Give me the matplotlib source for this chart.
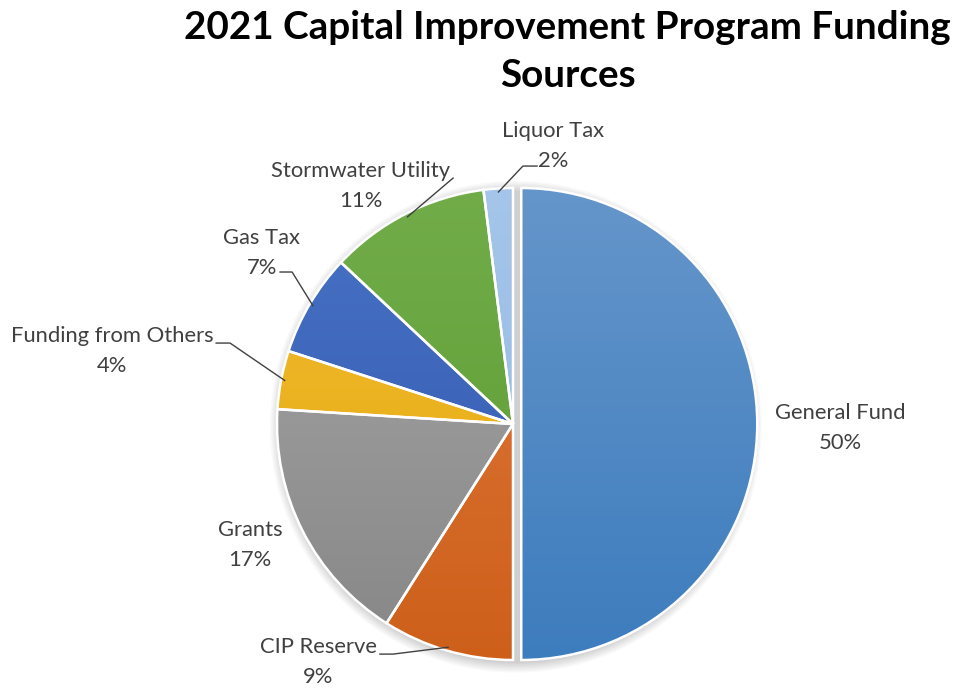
import numpy as np
import matplotlib
matplotlib.use("Agg")
import matplotlib.pyplot as plt
from matplotlib.colors import LinearSegmentedColormap

# Funding sources (percent of total), clockwise from 12 o'clock
sources = ["General Fund", "CIP Reserve", "Grants", "Funding from Others",
           "Gas Tax", "Stormwater Utility", "Liquor Tax"]
shares = [50, 9, 17, 4, 7, 11, 2]

# light (top) and dark (bottom) shade of each slice
light = ["#6797cb", "#e27c42", "#a9a9a9", "#f3bd3c", "#4a74c6", "#72ad4a", "#a6c6ea"]
dark = ["#3b7bbd", "#cc5e17", "#858585", "#e3a700", "#2e56ad", "#5b9a30", "#8fb7e2"]
explode = [0.035, 0, 0, 0, 0, 0, 0]

# label centres (data units, pie radius = 1) and leader-line paths
label_pos = [(1.386, -0.017), (-0.826, -1.008), (-1.114, -0.513), (-1.699, 0.309),
             (-1.064, 0.725), (-0.644, 1.008), (0.169, 1.178)]
leaders = {
    1: [(-0.508, -0.975), (-0.564, -0.975)],
    3: [(-1.199, 0.343), (-1.258, 0.343)],
    4: [(-0.936, 0.644), (-0.987, 0.644)],
    5: [(-0.254, 1.042)],
    6: [(0.042, 1.093), (0.102, 1.093)],
}

fig = plt.figure(figsize=(9.69, 6.9), dpi=100)
W, H = 969, 690
cx, cy, r = 513, 424, 236
m = 1.2  # axes half-width in pie radii, leaves room for the exploded slice
ax = fig.add_axes([(cx - m * r) / W, (H - cy - m * r) / H, 2 * m * r / W, 2 * m * r / H])
ax.axis("off")

# soft shadow around the pie
for k in range(8):
    sh = plt.Circle((0.012, -0.012), 1.0 + 0.006 * k, color="black",
                    alpha=0.022, lw=0, zorder=0)
    ax.add_patch(sh)

wedges, _ = ax.pie(shares, startangle=90, counterclock=False, explode=explode,
                   radius=1, wedgeprops=dict(linewidth=1.8, edgecolor="white"))

grad = np.linspace(1, 0, 256).reshape(-1, 1)
for w, c1, c2 in zip(wedges, light, dark):
    w.set_facecolor("none")
    w.set_zorder(3)
    cmap = LinearSegmentedColormap.from_list("g", [c2, c1])
    im = ax.imshow(grad, cmap=cmap, extent=(-1.1, 1.1, -1.1, 1.1),
                   aspect="auto", zorder=2, origin="upper")
    im.set_clip_path(w)
ax.set_xlim(-m, m)
ax.set_ylim(-m, m)
ax.set_aspect("equal")

font = "Lato"
for i, (name, pct) in enumerate(zip(sources, shares)):
    x, y = label_pos[i]
    ax.text(x, y, f"{name}\n{pct}%", ha="center", va="center", fontsize=15.8,
            color="#404040", family=font, linespacing=1.6, clip_on=False)
    if i in leaders:
        w = wedges[i]
        mid = np.deg2rad((w.theta1 + w.theta2) / 2)
        start = (0.985 * np.cos(mid), 0.985 * np.sin(mid))
        pts = [start] + leaders[i]
        xs, ys = zip(*pts)
        ax.plot(xs, ys, color="#404040", lw=1.0, clip_on=False, zorder=4)

fig.text(0.586, 0.985, "2021 Capital Improvement Program Funding\nSources",
         ha="center", va="top", fontsize=27.8, fontweight="bold", family=font,
         color="black", linespacing=1.45)

fig.savefig("out.png", dpi=100, facecolor="white")
